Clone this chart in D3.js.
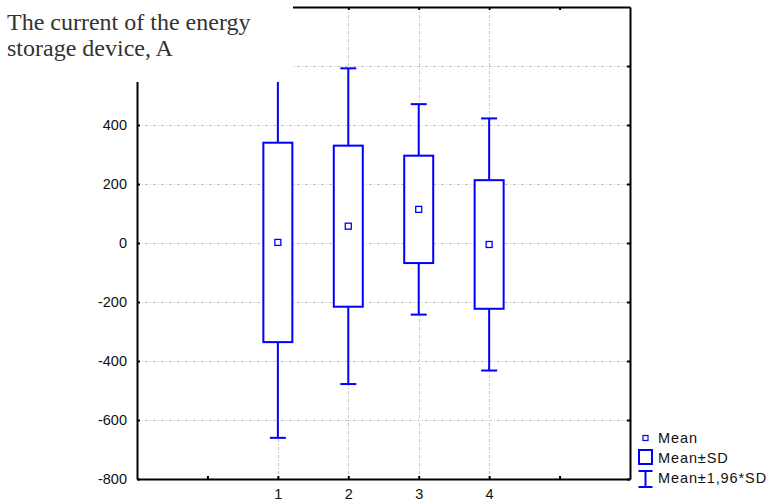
<!DOCTYPE html>
<html>
<head>
<meta charset="utf-8">
<script src="https://cdn.jsdelivr.net/npm/d3@7"></script>
<style>
  html, body { margin: 0; padding: 0; background: #fff; }
  svg { display: block; }
</style>
</head>
<body>
<svg id="chart" width="767" height="502"></svg>
<script>
// Group labels along the x axis
const groups = ["1", "2", "3", "4"];
const groupPos = [1, 2, 3, 4];
// Mean current per group, A
const means = [2, 57, 114, -5];
// Standard deviation per group, A
const sds = [338, 273, 182, 218];
// Axis ticks (the 600 line sits under the title panel, so it has no label)
const yTicks = [-800, -600, -400, -200, 0, 200, 400, 600];
const yLabelled = [-800, -600, -400, -200, 0, 200, 400];
const xTicks = [0, 1, 2, 3, 4, 5];
const legendLabels = ["Mean", "Mean\u00B1SD", "Mean\u00B11,96*SD"];
const titleLines = ["The current of the energy", "storage device, A"];

const plot = { left: 137, right: 630, top: 7, bottom: 479 };
const blue = "#0000ff";
const gridColor = "#c4c4c4";

const svg = d3.select("#chart");

const x = d3.scaleLinear().domain([-1, 6]).range([plot.left, plot.right]);
const y = d3.scaleLinear().domain([-800, 800]).range([plot.bottom, plot.top]);

// grid
const grid = svg.append("g").attr("stroke", gridColor).attr("stroke-width", 1)
  .attr("stroke-dasharray", "3,2,1,2");
grid.selectAll("line.h").data(yTicks.filter(v => v > -800 && v < 800)).join("line")
  .attr("class", "h")
  .attr("x1", plot.left).attr("x2", plot.right)
  .attr("y1", d => Math.round(y(d)) + 0.5).attr("y2", d => Math.round(y(d)) + 0.5);
grid.selectAll("line.v").data(groupPos).join("line")
  .attr("class", "v")
  .attr("x1", d => Math.round(x(d)) + 0.5).attr("x2", d => Math.round(x(d)) + 0.5)
  .attr("y1", plot.top).attr("y2", plot.bottom);

// boxes and whiskers
const rows = groups.map((g, i) => ({ g, p: groupPos[i], m: means[i], s: sds[i] }));
const boxW = 29, capW = 16;
const marks = svg.append("g").attr("stroke", blue).attr("fill", "none");

rows.forEach(r => {
  const cx = x(r.p);
  const hiS = r.m + r.s, loS = r.m - r.s;
  const hiW = r.m + 1.96 * r.s, loW = r.m - 1.96 * r.s;
  const g = marks.append("g");
  // whiskers
  g.append("line").attr("x1", cx).attr("x2", cx).attr("y1", y(hiS)).attr("y2", y(hiW)).attr("stroke-width", 2);
  g.append("line").attr("x1", cx).attr("x2", cx).attr("y1", y(loS)).attr("y2", y(loW)).attr("stroke-width", 2);
  g.append("line").attr("x1", cx - capW / 2).attr("x2", cx + capW / 2).attr("y1", y(hiW)).attr("y2", y(hiW)).attr("stroke-width", 2);
  g.append("line").attr("x1", cx - capW / 2).attr("x2", cx + capW / 2).attr("y1", y(loW)).attr("y2", y(loW)).attr("stroke-width", 2);
  // SD box
  g.append("rect").attr("x", cx - boxW / 2).attr("y", y(hiS))
    .attr("width", boxW).attr("height", y(loS) - y(hiS))
    .attr("fill", "#fff").attr("stroke-width", 2);
  // mean
  g.append("rect").attr("x", cx - 3).attr("y", y(r.m) - 3).attr("width", 6).attr("height", 6)
    .attr("fill", "#fff").attr("stroke-width", 1.3);
});

// axes
const fontAxis = "'Liberation Sans', Arial, sans-serif";
const axLeft = svg.append("g").attr("transform", `translate(${plot.left},0)`)
  .call(d3.axisLeft(y).tickValues(yTicks).tickSizeInner(-3).tickSizeOuter(0).tickPadding(10)
    .tickFormat(d => yLabelled.includes(d) ? String(d) : ""));
const axBottom = svg.append("g").attr("transform", `translate(0,${plot.bottom})`)
  .call(d3.axisBottom(x).tickValues(xTicks).tickSizeInner(-3).tickSizeOuter(0).tickPadding(10)
    .tickFormat(d => { const i = groupPos.indexOf(d); return i >= 0 ? groups[i] : ""; }));
const axTop = svg.append("g").attr("transform", `translate(0,${plot.top})`)
  .call(d3.axisTop(x).tickValues(xTicks).tickSizeInner(-3).tickSizeOuter(0).tickFormat(""));
const axRight = svg.append("g").attr("transform", `translate(${plot.right},0)`)
  .call(d3.axisRight(y).tickValues(yTicks).tickSizeInner(-3).tickSizeOuter(0).tickFormat(""));

[axLeft, axBottom, axTop, axRight].forEach(a => {
  a.select(".domain").attr("stroke", "#000").attr("stroke-width", 2);
  a.selectAll(".tick line").attr("stroke", "#000").attr("stroke-width", 2);
  a.selectAll("text").attr("font-family", fontAxis).attr("font-size", 14.5).attr("fill", "#111");
});

// title panel
svg.append("rect").attr("x", 0).attr("y", 0).attr("width", 293).attr("height", 82).attr("fill", "#fff");
svg.append("g").selectAll("text").data(titleLines).join("text")
  .attr("x", 7).attr("y", (d, i) => 30 + i * 26)
  .attr("font-family", "'Liberation Serif', 'Times New Roman', serif")
  .attr("font-size", 24).attr("fill", "#333")
  .text(d => d);

// legend
const lg = svg.append("g");
const lx = 645.5;
lg.append("rect").attr("x", lx - 2.5).attr("y", 435.5).attr("width", 5).attr("height", 5)
  .attr("fill", "#fff").attr("stroke", blue).attr("stroke-width", 1.2);
lg.append("rect").attr("x", lx - 6.5).attr("y", 450).attr("width", 13).attr("height", 14)
  .attr("fill", "#fff").attr("stroke", blue).attr("stroke-width", 2);
lg.append("line").attr("x1", lx).attr("x2", lx).attr("y1", 471).attr("y2", 487).attr("stroke", blue).attr("stroke-width", 2);
lg.append("line").attr("x1", lx - 7).attr("x2", lx + 7).attr("y1", 471).attr("y2", 471).attr("stroke", blue).attr("stroke-width", 2);
lg.append("line").attr("x1", lx - 7).attr("x2", lx + 7).attr("y1", 487).attr("y2", 487).attr("stroke", blue).attr("stroke-width", 2);
lg.selectAll("text").data(legendLabels).join("text")
  .attr("x", 658).attr("y", (d, i) => 443 + i * 20)
  .attr("font-family", fontAxis).attr("font-size", 14.5).attr("letter-spacing", 0.9)
  .attr("fill", "#111")
  .text(d => d);
</script>
</body>
</html>
